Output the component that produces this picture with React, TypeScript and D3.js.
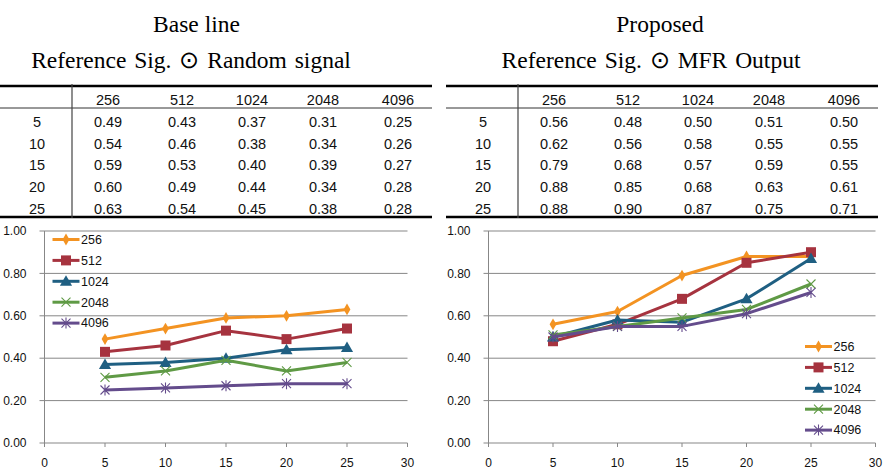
import React from "react";
import * as d3 from "d3";

const seriesNames = ["256", "512", "1024", "2048", "4096"];
const snrLevels = [5, 10, 15, 20, 25];

const base256 = [0.49, 0.54, 0.59, 0.6, 0.63];
const base512 = [0.43, 0.46, 0.53, 0.49, 0.54];
const base1024 = [0.37, 0.38, 0.4, 0.44, 0.45];
const base2048 = [0.31, 0.34, 0.39, 0.34, 0.38];
const base4096 = [0.25, 0.26, 0.27, 0.28, 0.28];

const prop256 = [0.56, 0.62, 0.79, 0.88, 0.88];
const prop512 = [0.48, 0.56, 0.68, 0.85, 0.9];
const prop1024 = [0.5, 0.58, 0.57, 0.68, 0.87];
const prop2048 = [0.51, 0.55, 0.59, 0.63, 0.75];
const prop4096 = [0.5, 0.55, 0.55, 0.61, 0.71];

const xTicks = [0, 5, 10, 15, 20, 25, 30];
const yTicks = [0, 0.2, 0.4, 0.6, 0.8, 1.0];

const colors = ["#F39322", "#A6333F", "#1F5F82", "#5F9A45", "#644C8C"];
const markerTypes = ["diamond", "square", "triangle", "x", "star"];

const SANS = "'Liberation Sans', Arial, sans-serif";
const SERIF = "'Liberation Serif', 'Times New Roman', serif";

function Marker({ type, x, y, color }: { type: string; x: number; y: number; color: string }) {
  if (type === "diamond") {
    const p = d3.symbol().type(d3.symbolDiamond).size(40)();
    return <path d={p || ""} transform={`translate(${x},${y})`} fill={color} />;
  }
  if (type === "square") {
    const p = d3.symbol().type(d3.symbolSquare).size(100)();
    return <path d={p || ""} transform={`translate(${x},${y})`} fill={color} />;
  }
  if (type === "triangle") {
    const p = d3.symbol().type(d3.symbolTriangle).size(64)();
    return <path d={p || ""} transform={`translate(${x},${y + 1})`} fill={color} />;
  }
  if (type === "x") {
    const r = 4.5;
    return (
      <path
        d={`M${x - r},${y - r}L${x + r},${y + r}M${x - r},${y + r}L${x + r},${y - r}`}
        stroke={color}
        strokeWidth={1.1}
        fill="none"
      />
    );
  }
  const r = 4.5;
  return (
    <path
      d={`M${x - r},${y - r}L${x + r},${y + r}M${x - r},${y + r}L${x + r},${y - r}M${x},${y - r - 1}L${x},${y + r + 1}`}
      stroke={color}
      strokeWidth={1.1}
      fill="none"
    />
  );
}

function Table({ x0, x1, vx, cols, rowX, data }: { x0: number; x1: number; vx: number; cols: number[]; rowX: number; data: number[][] }) {
  const rowYs = [122, 143.5, 165, 187, 208.5];
  return (
    <g fontFamily={SANS} fontSize={14.5} fill="#111">
      <line x1={x0} x2={x1} y1={86} y2={86} stroke="#000" strokeWidth={2.5} />
      <line x1={x0} x2={x1} y1={108} y2={108} stroke="#333" strokeWidth={1} />
      <line x1={x0} x2={x1} y1={217} y2={217} stroke="#000" strokeWidth={2.5} />
      <line x1={vx} x2={vx} y1={84} y2={218} stroke="#444" strokeWidth={1.2} />
      {seriesNames.map((s, i) => (
        <text key={s} x={cols[i]} y={100} dy="0.35em" textAnchor="middle">{s}</text>
      ))}
      {snrLevels.map((r, j) => (
        <text key={r} x={rowX} y={rowYs[j]} dy="0.35em" textAnchor="middle">{r}</text>
      ))}
      {snrLevels.map((r, j) =>
        seriesNames.map((s, i) => (
          <text key={`${r}-${s}`} x={cols[i]} y={rowYs[j]} dy="0.35em" textAnchor="middle">
            {data[i][j].toFixed(2)}
          </text>
        ))
      )}
    </g>
  );
}

function Chart({ left, right, data, legendX, legendY }: { left: number; right: number; data: number[][]; legendX: number; legendY: number }) {
  const top = 231;
  const bottom = 443;
  const x = d3.scaleLinear().domain([0, 30]).range([left, right]);
  const y = d3.scaleLinear().domain([0, 1]).range([bottom, top]);
  const line = d3
    .line<number>()
    .x((_, i) => x(snrLevels[i]))
    .y((d) => y(d));
  return (
    <g>
      {yTicks.map((t) => (
        <g key={t}>
          <line x1={left - 5} x2={right} y1={y(t)} y2={y(t)} stroke="#878787" strokeWidth={1} />
          <text x={left - 18} y={y(t)} dy="0.35em" textAnchor="end" fontFamily={SANS} fontSize={12} fill="#111">
            {t.toFixed(2)}
          </text>
        </g>
      ))}
      <line x1={left} x2={left} y1={top} y2={bottom} stroke="#878787" strokeWidth={1} />
      {xTicks.map((t) => (
        <g key={t}>
          <line x1={x(t)} x2={x(t)} y1={bottom} y2={bottom + 4} stroke="#878787" strokeWidth={1} />
          <text x={x(t)} y={bottom + 20} dy="0.35em" textAnchor="middle" fontFamily={SANS} fontSize={12} fill="#111">
            {t}
          </text>
        </g>
      ))}
      {data.map((vals, si) => (
        <g key={si}>
          <path d={line(vals) || ""} fill="none" stroke={colors[si]} strokeWidth={3} strokeLinejoin="round" />
          {vals.map((v, i) => (
            <Marker key={i} type={markerTypes[si]} x={x(snrLevels[i])} y={y(v)} color={colors[si]} />
          ))}
        </g>
      ))}
      {seriesNames.map((s, si) => {
        const ly = legendY + si * 20.9;
        return (
          <g key={s}>
            <line x1={legendX} x2={legendX + 27} y1={ly} y2={ly} stroke={colors[si]} strokeWidth={3} />
            <Marker type={markerTypes[si]} x={legendX + 13.5} y={ly} color={colors[si]} />
            <text x={legendX + 28.5} y={ly} dy="0.35em" fontFamily={SANS} fontSize={12.5} fill="#111">
              {s}
            </text>
          </g>
        );
      })}
    </g>
  );
}

export default function App() {
  const baseData = [base256, base512, base1024, base2048, base4096];
  const propData = [prop256, prop512, prop1024, prop2048, prop4096];
  return (
    <svg
      width={892}
      height={472}
      viewBox="0 0 892 472"
      style={{ position: "fixed", left: 0, top: 0, background: "#fff", display: "block" }}
    >
      <rect width={892} height={472} fill="#fff" />
      <g fontFamily={SERIF} fill="#000">
        <text x={196.5} y={31.5} textAnchor="middle" fontSize={23.5}>Base line</text>
        <text x={191} y={67.5} textAnchor="middle" fontSize={23.5} wordSpacing={2}>Reference Sig. ⊙ Random signal</text>
        <text x={660} y={31.5} textAnchor="middle" fontSize={23.5}>Proposed</text>
        <text x={651} y={67.5} textAnchor="middle" fontSize={23.5} wordSpacing={2}>Reference Sig. ⊙ MFR Output</text>
      </g>
      <Table x0={0} x1={432} vx={72} cols={[108, 182, 252, 323, 398]} rowX={37} data={baseData} />
      <Table x0={446} x1={878} vx={518} cols={[554, 628, 698, 769, 844]} rowX={483} data={propData} />
      <Chart left={44.5} right={407.5} data={baseData} legendX={52.5} legendY={239.5} />
      <Chart left={488.5} right={875.5} data={propData} legendX={805} legendY={346.5} />
    </svg>
  );
}
